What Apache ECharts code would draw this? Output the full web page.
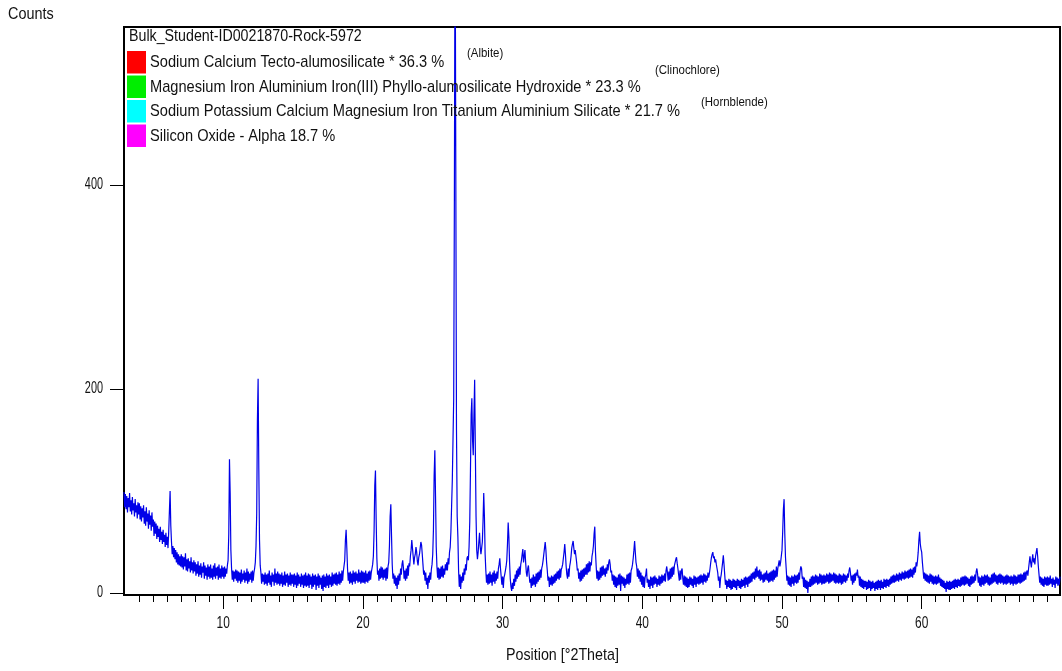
<!DOCTYPE html>
<html>
<head>
<meta charset="utf-8">
<title>Bulk_Student-ID0021870-Rock-5972</title>
<script src="https://cdn.jsdelivr.net/npm/echarts@6/dist/echarts.min.js"></script>
<style>
  html, body { margin: 0; padding: 0; background: #fff; }
  #chart { width: 1062px; height: 671px; }
</style>
</head>
<body>
<div id="chart"></div>
<script>
// Scan: 2θ from 2.9° in 0.05° steps; counts per step (one row per degree)
const xStart = 2.9;
const xStep = 0.05;
const counts = [
  99, 84,
  97, 82, 95, 79, 93, 84, 98, 80, 91, 77, 94, 81, 88, 75, 92, 79, 86, 73, 89, 77,
  88, 72, 85, 70, 83, 74, 86, 68, 80, 66, 84, 70, 78, 63, 81, 67, 76, 61, 79, 65,
  72, 56, 70, 58, 68, 53, 66, 55, 63, 50, 65, 52, 60, 48, 62, 50, 57, 45, 59, 47,
  55, 44, 60, 80, 100, 66, 50, 38, 46, 35, 44, 33, 42, 30, 40, 28, 38, 27, 36, 26,
  38, 25, 36, 23, 35, 26, 39, 22, 33, 21, 34, 24, 31, 20, 35, 22, 30, 19, 32, 21,
  30, 17, 28, 19, 31, 16, 27, 18, 29, 15, 26, 20, 30, 14, 27, 17, 25, 13, 28, 16,
  26, 14, 28, 15, 24, 13, 27, 16, 29, 14, 25, 17, 26, 13, 28, 15, 24, 14, 27, 16,
  25, 14, 26, 16, 24, 19, 27, 32, 58, 131, 98, 42, 24, 13, 22, 11, 21, 14, 23, 12,
  22, 10, 21, 12, 20, 9, 23, 11, 19, 13, 22, 10, 20, 12, 24, 9, 21, 11, 19, 13,
  21, 10, 22, 12, 20, 24, 30, 46, 78, 170, 210, 122, 52, 27, 20, 9, 19, 11, 18, 8,
  20, 9, 18, 7, 19, 10, 22, 8, 17, 6, 20, 11, 18, 7, 24, 10, 19, 8, 21, 9,
  19, 7, 18, 9, 20, 6, 17, 8, 21, 7, 18, 10, 19, 6, 17, 8, 20, 7, 18, 9,
  18, 6, 19, 8, 17, 5, 20, 7, 18, 9, 16, 6, 19, 8, 17, 5, 18, 7, 20, 6,
  17, 7, 19, 5, 18, 8, 16, 4, 19, 6, 17, 8, 18, 3, 16, 7, 19, 5, 17, 8,
  15, 4, 17, 2, 18, 6, 16, 5, 19, 7, 17, 5, 18, 8, 16, 6, 20, 7, 18, 9,
  19, 8, 20, 7, 18, 9, 21, 8, 19, 10, 22, 12, 21, 22, 32, 52, 62, 44, 24, 12,
  20, 9, 21, 10, 19, 8, 22, 11, 20, 9, 21, 12, 19, 10, 23, 11, 20, 9, 22, 10,
  21, 10, 20, 9, 22, 11, 19, 10, 21, 12, 22, 13, 20, 24, 28, 36, 60, 105, 120, 72,
  34, 18, 22, 12, 24, 14, 26, 15, 25, 13, 23, 15, 24, 12, 25, 14, 26, 30, 46, 75,
  87, 56, 28, 14, 19, 9, 17, 7, 15, 4, 17, 8, 19, 12, 24, 18, 28, 32, 25, 14,
  22, 12, 24, 14, 27, 17, 29, 26, 36, 42, 52, 44, 36, 28, 35, 38, 45, 40, 31, 27,
  35, 38, 44, 50, 47, 38, 28, 18, 22, 12, 20, 8, 15, 4, 17, 10, 20, 13, 23, 28,
  38, 62, 115, 140, 95, 45, 26, 15, 25, 13, 24, 14, 26, 16, 27, 15, 24, 18, 28, 22,
  30, 22, 34, 28, 40, 45, 60, 85, 110, 150, 190, 390, 680, 418, 160, 75, 55, 22, 6, 18,
  4, 16, 10, 20, 12, 24, 18, 28, 22, 34, 36, 32, 45, 70, 120, 175, 191, 150, 135, 175,
  209, 140, 75, 42, 33, 40, 50, 59, 45, 38, 44, 50, 70, 98, 75, 38, 22, 10, 18, 8,
  19, 9, 21, 10, 18, 7, 20, 11, 22, 9, 19, 12, 21, 14, 24, 28, 34, 24, 16, 8,
  16, 5, 15, 18, 22, 26, 32, 48, 69, 55, 30, 14, 6, 2, 10, 4, 14, 7, 18, 11,
  22, 14, 24, 16, 26, 18, 28, 32, 38, 43, 30, 36, 42, 30, 20, 16, 24, 27, 18, 10,
  14, 5, 15, 7, 18, 8, 16, 6, 19, 9, 20, 11, 21, 13, 23, 15, 24, 27, 32, 38,
  44, 50, 42, 30, 22, 12, 16, 6, 15, 8, 17, 7, 16, 9, 18, 10, 19, 12, 21, 14,
  22, 13, 24, 15, 23, 25, 28, 34, 40, 48, 38, 26, 18, 14, 24, 16, 26, 30, 36, 44,
  48, 51, 44, 38, 42, 36, 30, 22, 24, 14, 20, 11, 22, 12, 23, 14, 24, 16, 25, 18,
  28, 18, 29, 20, 31, 21, 30, 27, 36, 40, 46, 58, 65, 40, 26, 14, 22, 12, 21, 13,
  25, 15, 26, 17, 27, 18, 24, 16, 25, 19, 28, 22, 30, 33, 28, 20, 22, 12, 18, 8,
  17, 6, 16, 5, 15, 7, 18, 8, 19, 2, 17, 9, 16, 7, 15, 5, 14, 8, 18, 9,
  19, 8, 20, 10, 22, 24, 28, 34, 42, 51, 40, 30, 26, 16, 24, 14, 22, 11, 20, 8,
  17, 6, 16, 5, 15, 18, 24, 10, 14, 6, 13, 4, 16, 7, 15, 5, 16, 8, 17, 9,
  15, 6, 14, 8, 17, 7, 16, 9, 18, 10, 17, 12, 19, 11, 22, 26, 20, 12, 21, 13,
  24, 14, 25, 16, 26, 18, 27, 30, 33, 35, 29, 24, 18, 12, 22, 13, 22, 24, 14, 8,
  17, 7, 16, 6, 15, 5, 14, 6, 16, 8, 15, 7, 14, 5, 17, 8, 16, 6, 15, 9,
  16, 8, 17, 9, 18, 10, 17, 8, 19, 11, 18, 10, 17, 12, 20, 15, 19, 24, 30, 35,
  38, 40, 34, 36, 30, 33, 28, 24, 20, 12, 16, 5, 14, 18, 24, 30, 37, 28, 18, 8,
  13, 4, 12, 6, 14, 5, 13, 3, 12, 4, 14, 6, 13, 5, 12, 3, 14, 7, 13, 5,
  12, 4, 14, 6, 13, 7, 15, 5, 16, 8, 15, 6, 16, 9, 17, 10, 19, 11, 20, 14,
  21, 13, 24, 15, 26, 16, 22, 14, 23, 12, 21, 13, 18, 10, 19, 11, 20, 13, 22, 12,
  19, 10, 20, 11, 21, 12, 22, 11, 23, 13, 22, 15, 26, 16, 24, 28, 32, 26, 30, 36,
  42, 60, 82, 92, 58, 35, 24, 12, 17, 8, 16, 7, 15, 6, 17, 9, 16, 7, 18, 10,
  17, 9, 18, 10, 20, 13, 22, 26, 24, 14, 16, 6, 15, 5, 13, 4, 12, 0, 11, 6,
  14, 6, 16, 7, 17, 8, 16, 9, 18, 10, 17, 8, 16, 9, 19, 10, 18, 8, 17, 9,
  18, 9, 17, 10, 19, 11, 18, 9, 20, 10, 19, 11, 18, 12, 20, 10, 19, 9, 18, 10,
  17, 9, 19, 10, 18, 8, 17, 9, 19, 11, 18, 10, 17, 12, 19, 15, 22, 25, 20, 12,
  17, 8, 18, 10, 19, 12, 20, 17, 23, 15, 17, 7, 16, 6, 14, 5, 13, 4, 12, 6,
  12, 3, 11, 4, 13, 5, 12, 2, 11, 4, 12, 5, 10, 2, 11, 4, 12, 3, 13, 5,
  12, 3, 13, 5, 11, 4, 14, 6, 13, 5, 14, 7, 13, 6, 14, 8, 16, 9, 17, 10,
  18, 10, 17, 11, 19, 12, 18, 11, 20, 13, 19, 12, 21, 14, 20, 13, 22, 14, 21, 15,
  22, 14, 23, 15, 24, 16, 23, 15, 25, 18, 26, 20, 30, 26, 32, 40, 52, 60, 48, 43,
  40, 30, 22, 14, 20, 12, 19, 11, 18, 10, 17, 9, 19, 11, 18, 9, 17, 8, 16, 9,
  17, 8, 16, 9, 18, 10, 15, 7, 14, 6, 13, 5, 12, 4, 10, 1, 12, 4, 11, 3,
  12, 3, 11, 4, 12, 5, 13, 4, 14, 6, 13, 5, 14, 7, 13, 6, 15, 7, 16, 8,
  16, 7, 17, 8, 16, 9, 15, 7, 14, 6, 16, 8, 17, 9, 16, 10, 18, 12, 21, 24,
  19, 10, 16, 7, 15, 6, 17, 8, 16, 7, 18, 9, 17, 10, 18, 8, 16, 7, 15, 8,
  18, 9, 19, 10, 20, 11, 18, 9, 17, 8, 18, 10, 19, 9, 18, 10, 17, 8, 16, 9,
  17, 8, 18, 9, 17, 10, 16, 8, 17, 9, 16, 7, 18, 9, 17, 8, 16, 9, 18, 10,
  18, 9, 19, 10, 18, 11, 20, 12, 21, 13, 20, 22, 17, 24, 30, 36, 30, 25, 32, 38,
  30, 34, 28, 36, 40, 44, 36, 26, 18, 10, 16, 8, 15, 7, 14, 6, 16, 8, 15, 7,
  16, 7, 15, 8, 17, 9, 14, 6, 15, 8, 13, 5, 16, 9, 15, 7, 14, 8, 16
];

const xRange = [2.9, 69.9];
const yRange = [-2, 555];
const xMajorTicks = [10, 20, 30, 40, 50, 60];
const xMinorTicks = [4, 5, 6, 7, 8, 9, 10, 11, 12, 13, 14, 15, 16, 17, 18, 19, 20, 21, 22, 23, 24,
  25, 26, 27, 28, 29, 30, 31, 32, 33, 34, 35, 36, 37, 38, 39, 40, 41, 42, 43, 44, 45, 46, 47, 48,
  49, 50, 51, 52, 53, 54, 55, 56, 57, 58, 59, 60, 61, 62, 63, 64, 65, 66, 67, 68, 69];
const yTicks = [0, 200, 400];

const sampleName = 'Bulk_Student-ID0021870-Rock-5972';
const phaseNames = [
  'Sodium Calcium Tecto-alumosilicate * 36.3 %',
  'Magnesium Iron Aluminium Iron(III) Phyllo-alumosilicate Hydroxide * 23.3 %',
  'Sodium Potassium Calcium Magnesium Iron Titanium Aluminium Silicate * 21.7 %',
  'Silicon Oxide - Alpha 18.7 %'
];
const phaseColors = ['#ff0000', '#00ee00', '#00ffff', '#ff00ff'];
const mineralNames = ['(Albite)', '(Clinochlore)', '(Hornblende)'];

const FONT = "'Liberation Sans', Arial, sans-serif";
const INK = '#111';

const scan = counts.map((c, i) => [+(xStart + i * xStep).toFixed(2), c]);

// Horizontally condensed text element (narrow Arial look)
function narrowText(x, y, text, size, squeeze, align) {
  return {
    type: 'text', x: x, y: y, scaleX: squeeze, silent: true, z: 20,
    style: {
      text: text, x: 0, y: 0, fill: INK,
      font: size + 'px ' + FONT,
      align: align || 'left', verticalAlign: 'middle'
    }
  };
}

const chart = echarts.init(document.getElementById('chart'), null, { renderer: 'canvas' });

chart.setOption({
  animation: false,
  backgroundColor: '#ffffff',
  textStyle: { fontFamily: FONT },
  grid: {
    left: 124, right: 2, top: 27, bottom: 76,
    show: true, borderColor: '#000', borderWidth: 2, backgroundColor: '#fff'
  },
  xAxis: [
    {
      type: 'value', min: xRange[0], max: xRange[1],
      axisLine: { show: true, onZero: false, lineStyle: { color: '#000', width: 2 } },
      axisTick: { show: true, customValues: xMajorTicks, length: 14, lineStyle: { color: '#000', width: 1 } },
      axisLabel: { show: false },
      splitLine: { show: false }
    },
    {
      type: 'value', min: xRange[0], max: xRange[1], position: 'bottom',
      axisLine: { show: false, onZero: false },
      axisTick: { show: true, customValues: xMinorTicks, length: 7, lineStyle: { color: '#000', width: 1 } },
      axisLabel: { show: false },
      splitLine: { show: false }
    }
  ],
  yAxis: {
    type: 'value', min: yRange[0], max: yRange[1],
    axisLine: { show: true, onZero: false, lineStyle: { color: '#000', width: 2 } },
    axisTick: { show: true, customValues: yTicks, length: 14, lineStyle: { color: '#000', width: 1 } },
    axisLabel: { show: false },
    splitLine: { show: false }
  },
  series: [
    {
      name: sampleName,
      type: 'line',
      data: scan,
      showSymbol: false,
      symbol: 'none',
      sampling: false,
      clip: true,
      z: 3,
      lineStyle: { color: '#0000e8', width: 1.2 }
    }
  ]
});

// Tick labels placed through the axis scales
const labels = [];
yTicks.forEach(v => {
  const py = chart.convertToPixel({ yAxisIndex: 0 }, v);
  labels.push(narrowText(103, py, String(v), 16, 0.68, 'right'));
});
xMajorTicks.forEach(v => {
  const px = chart.convertToPixel({ xAxisIndex: 0 }, v);
  labels.push(narrowText(px, 623, String(v), 17, 0.7, 'center'));
});

// Legend box: sample name and identified phases
const legend = [narrowText(129, 37, sampleName, 16, 0.89)];
phaseNames.forEach((name, i) => {
  const top = 51 + i * 24.5;
  legend.push({
    type: 'rect', silent: true, z: 20,
    shape: { x: 127, y: top, width: 19, height: 22.5 },
    style: { fill: phaseColors[i] }
  });
  legend.push(narrowText(150, top + 11.5, name, 17, 0.86));
});

chart.setOption({
  graphic: [
    narrowText(8, 15, 'Counts', 16, 0.9),
    narrowText(506, 655, 'Position [°2Theta]', 17, 0.84),
    narrowText(467, 53, mineralNames[0], 13, 0.88),
    narrowText(655, 70, mineralNames[1], 13, 0.88),
    narrowText(701, 102, mineralNames[2], 13, 0.88)
  ].concat(labels, legend)
});
</script>
</body>
</html>
